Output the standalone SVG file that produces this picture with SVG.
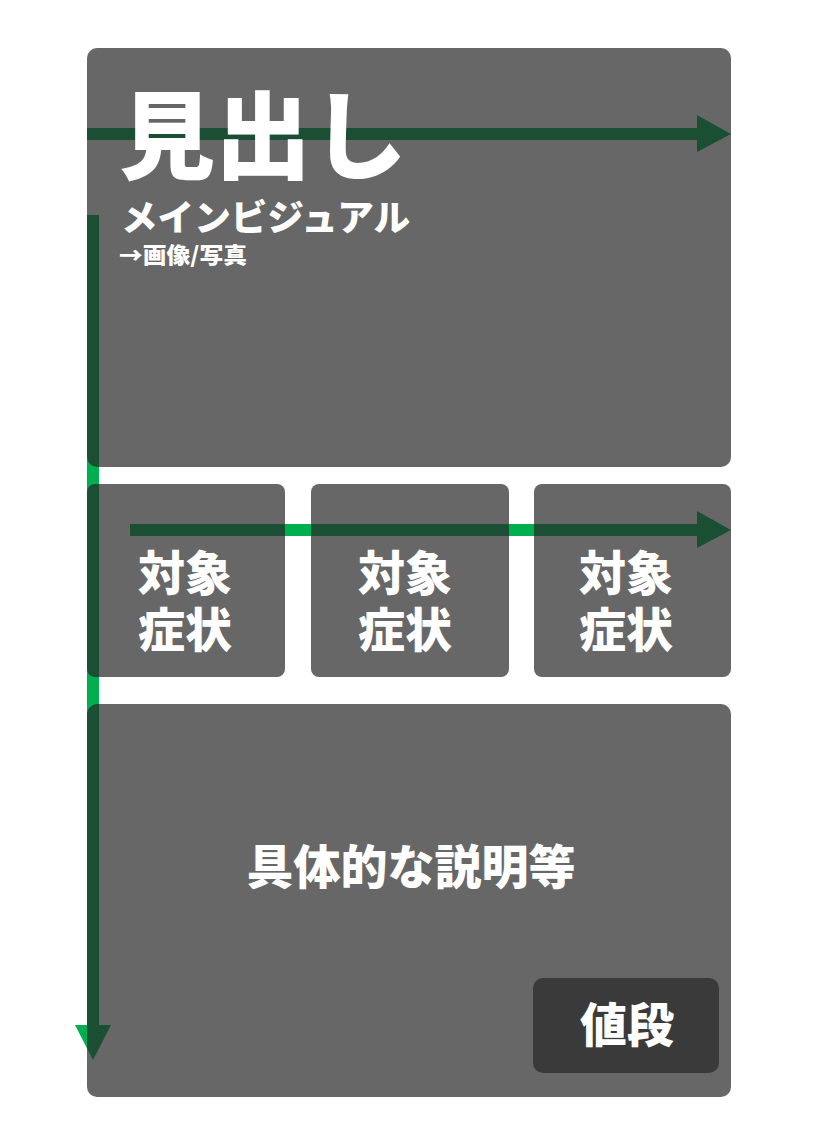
<svg xmlns="http://www.w3.org/2000/svg" width="813" height="1145" viewBox="0 0 813 1145">
<style>
.box{fill:#262626;fill-opacity:0.7}
.price{fill:#3a3a3a}
.t{fill:#ffffff;font-family:"Noto Sans CJK JP","Noto Sans CJK SC",sans-serif;font-weight:900}
.arrow{fill:#00b050}
</style>
<rect width="813" height="1145" fill="#ffffff"/>
<g id="connectors">
  <path class="arrow" d="M87,128 H697 V115 L731,134 L697,152 V140 H87 Z"/>
  <path class="arrow" d="M130,524 H697 V511 L731,530 L697,548 V536 H130 Z"/>
  <path class="arrow" d="M87,215 H99 V1025 H111 L93,1060 L75,1025 H87 Z"/>
</g>
<g id="main-visual">
  <rect class="box" x="87" y="48" width="644" height="419" rx="10"/>
  <text class="t" x="119" y="171" font-size="96">見出し</text>
  <text class="t" x="121" y="231" font-size="36" textLength="289" lengthAdjust="spacingAndGlyphs">メインビジュアル</text>
  <text class="t" x="119" y="263" font-size="22" textLength="128" lengthAdjust="spacingAndGlyphs">→画像/写真</text>
</g>
<g id="target-1">
  <rect class="box" x="87" y="484" width="198" height="193" rx="8"/>
  <text class="t" x="138" y="590" font-size="47">対象</text>
  <text class="t" x="138" y="647" font-size="47">症状</text>
</g>
<g id="target-2">
  <rect class="box" x="311" y="484" width="198" height="193" rx="8"/>
  <text class="t" x="358" y="590" font-size="47">対象</text>
  <text class="t" x="358" y="647" font-size="47">症状</text>
</g>
<g id="target-3">
  <rect class="box" x="534" y="484" width="197" height="193" rx="8"/>
  <text class="t" x="579" y="590" font-size="47">対象</text>
  <text class="t" x="579" y="647" font-size="47">症状</text>
</g>
<g id="description">
  <rect class="box" x="87" y="704" width="644" height="393" rx="10"/>
  <text class="t" x="411" y="884" font-size="47" text-anchor="middle">具体的な説明等</text>
</g>
<g id="price">
  <rect class="price" x="533" y="978" width="186" height="95" rx="10"/>
  <text class="t" x="627" y="1042" font-size="47" text-anchor="middle">値段</text>
</g>
</svg>
